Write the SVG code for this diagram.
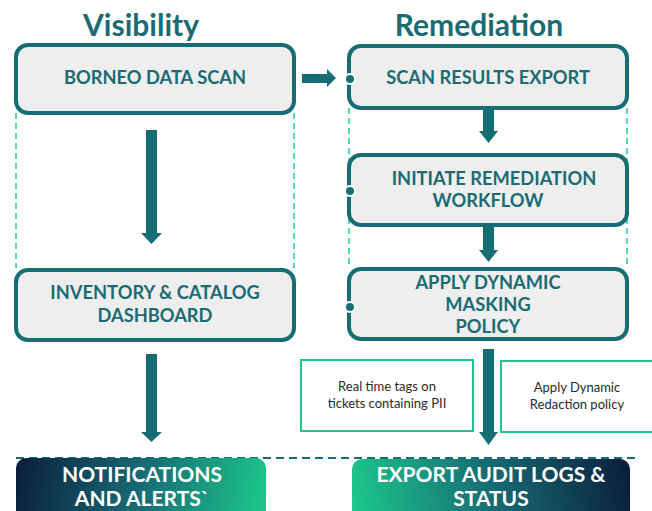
<svg xmlns="http://www.w3.org/2000/svg" width="652" height="511" viewBox="0 0 652 511">
<defs>
<linearGradient id="gNotif" gradientUnits="userSpaceOnUse" x1="16" y1="458" x2="266" y2="511">
<stop offset="0" stop-color="#0a1d3b"/>
<stop offset="0.5" stop-color="#176b74"/>
<stop offset="1" stop-color="#1cc98b"/>
</linearGradient>
<linearGradient id="gExport" gradientUnits="userSpaceOnUse" x1="352" y1="511" x2="630" y2="459">
<stop offset="0" stop-color="#1cc98b"/>
<stop offset="0.5" stop-color="#176b74"/>
<stop offset="1" stop-color="#0a1d3b"/>
</linearGradient>
<style>
.title{font-family:Lato,"Liberation Sans",sans-serif;font-weight:bold;font-size:30px;fill:#1b6b73;text-anchor:middle}
.box{fill:#eeeeee;stroke:#176d74;stroke-width:4}
.lbl{font-family:Lato,"Liberation Sans",sans-serif;font-weight:bold;font-size:18.3px;fill:#1b6b73;text-anchor:middle}
.wl{font-family:Lato,"Liberation Sans",sans-serif;font-weight:bold;font-size:21px;fill:#ffffff;text-anchor:middle}
.note{fill:#ffffff;stroke:#22c48a;stroke-width:2}
.nt{font-family:Lato,"Liberation Sans",sans-serif;font-size:13px;fill:#2a2a2a;text-anchor:middle}
.gd{stroke:#22d08e;stroke-width:1.5;stroke-dasharray:6 4;fill:none}
.td{stroke:#176d74;stroke-width:2;stroke-dasharray:8 5;fill:none}
.arr{fill:#176d74}
.dot{fill:#176d74;stroke:#ffffff;stroke-width:2}
</style>
</defs>

<text class="title" x="141" y="36">Visibility</text>
<text class="title" x="479" y="36">Remediation</text>

<g id="guides">
<line class="gd" x1="16" y1="113" x2="16" y2="268"/>
<line class="gd" x1="294" y1="113" x2="294" y2="268"/>
<line class="gd" x1="349" y1="108" x2="349" y2="268"/>
<line class="gd" x1="627" y1="108" x2="627" y2="268"/>
<line class="td" x1="16" y1="458" x2="640" y2="458"/>
</g>

<g id="connectors">
<polygon class="arr" points="146,130 157,130 157,233 162,233 151.5,244 141,233 146,233"/>
<polygon class="arr" points="146,354 157,354 157,432 162,432 151.5,442 141,432 146,432"/>
<polygon class="arr" points="302,74 327,74 327,69 336,78 327,87 327,83 302,83"/>
<polygon class="arr" points="483,108 494,108 494,131 498,131 488.5,143 479,131 483,131"/>
<polygon class="arr" points="483,225 494,225 494,250 498,250 488.5,262 479,250 483,250"/>
<polygon class="arr" points="483,349 494,349 494,432 498,432 488.5,445 479,432 483,432"/>
</g>

<g id="borneo">
<rect class="box" x="16" y="45" width="278" height="68" rx="12"/>
<text class="lbl" x="155" y="84">BORNEO DATA SCAN</text>
</g>

<g id="inventory">
<rect class="box" x="16" y="270" width="278" height="70" rx="12"/>
<text class="lbl" x="155" y="299">INVENTORY &amp; CATALOG</text>
<text class="lbl" x="155" y="322">DASHBOARD</text>
</g>

<g id="scanresults">
<rect class="box" x="349" y="46" width="278" height="62" rx="12"/>
<circle class="dot" cx="350" cy="79" r="5"/>
<text class="lbl" x="488" y="84">SCAN RESULTS EXPORT</text>
</g>

<g id="initiate">
<rect class="box" x="349" y="155" width="278" height="70" rx="12"/>
<circle class="dot" cx="350" cy="191" r="5"/>
<text class="lbl" x="494" y="185">INITIATE REMEDIATION</text>
<text class="lbl" x="488" y="207">WORKFLOW</text>
</g>

<g id="apply">
<rect class="box" x="349" y="269" width="278" height="70" rx="12"/>
<circle class="dot" cx="350" cy="307" r="5"/>
<text class="lbl" x="488" y="289">APPLY DYNAMIC</text>
<text class="lbl" x="488" y="311">MASKING</text>
<text class="lbl" x="488" y="333">POLICY</text>
</g>

<g id="tags">
<rect class="note" x="301" y="360" width="172" height="71"/>
<text class="nt" x="387" y="391">Real time tags on</text>
<text class="nt" x="387" y="408">tickets containing PII</text>
</g>

<g id="redaction">
<rect class="note" x="501" y="361" width="160" height="71"/>
<text class="nt" x="577" y="392">Apply Dynamic</text>
<text class="nt" x="577" y="409">Redaction policy</text>
</g>

<g id="notifications">
<rect x="16" y="458" width="250" height="64" rx="10" fill="url(#gNotif)"/>
<text class="wl" x="142" y="482">NOTIFICATIONS</text>
<text class="wl" x="142" y="506">AND ALERTS`</text>
</g>

<g id="exportaudit">
<rect x="352" y="459" width="278" height="64" rx="10" fill="url(#gExport)"/>
<text class="wl" x="491" y="482">EXPORT AUDIT LOGS &amp;</text>
<text class="wl" x="491" y="506">STATUS</text>
</g>
</svg>
